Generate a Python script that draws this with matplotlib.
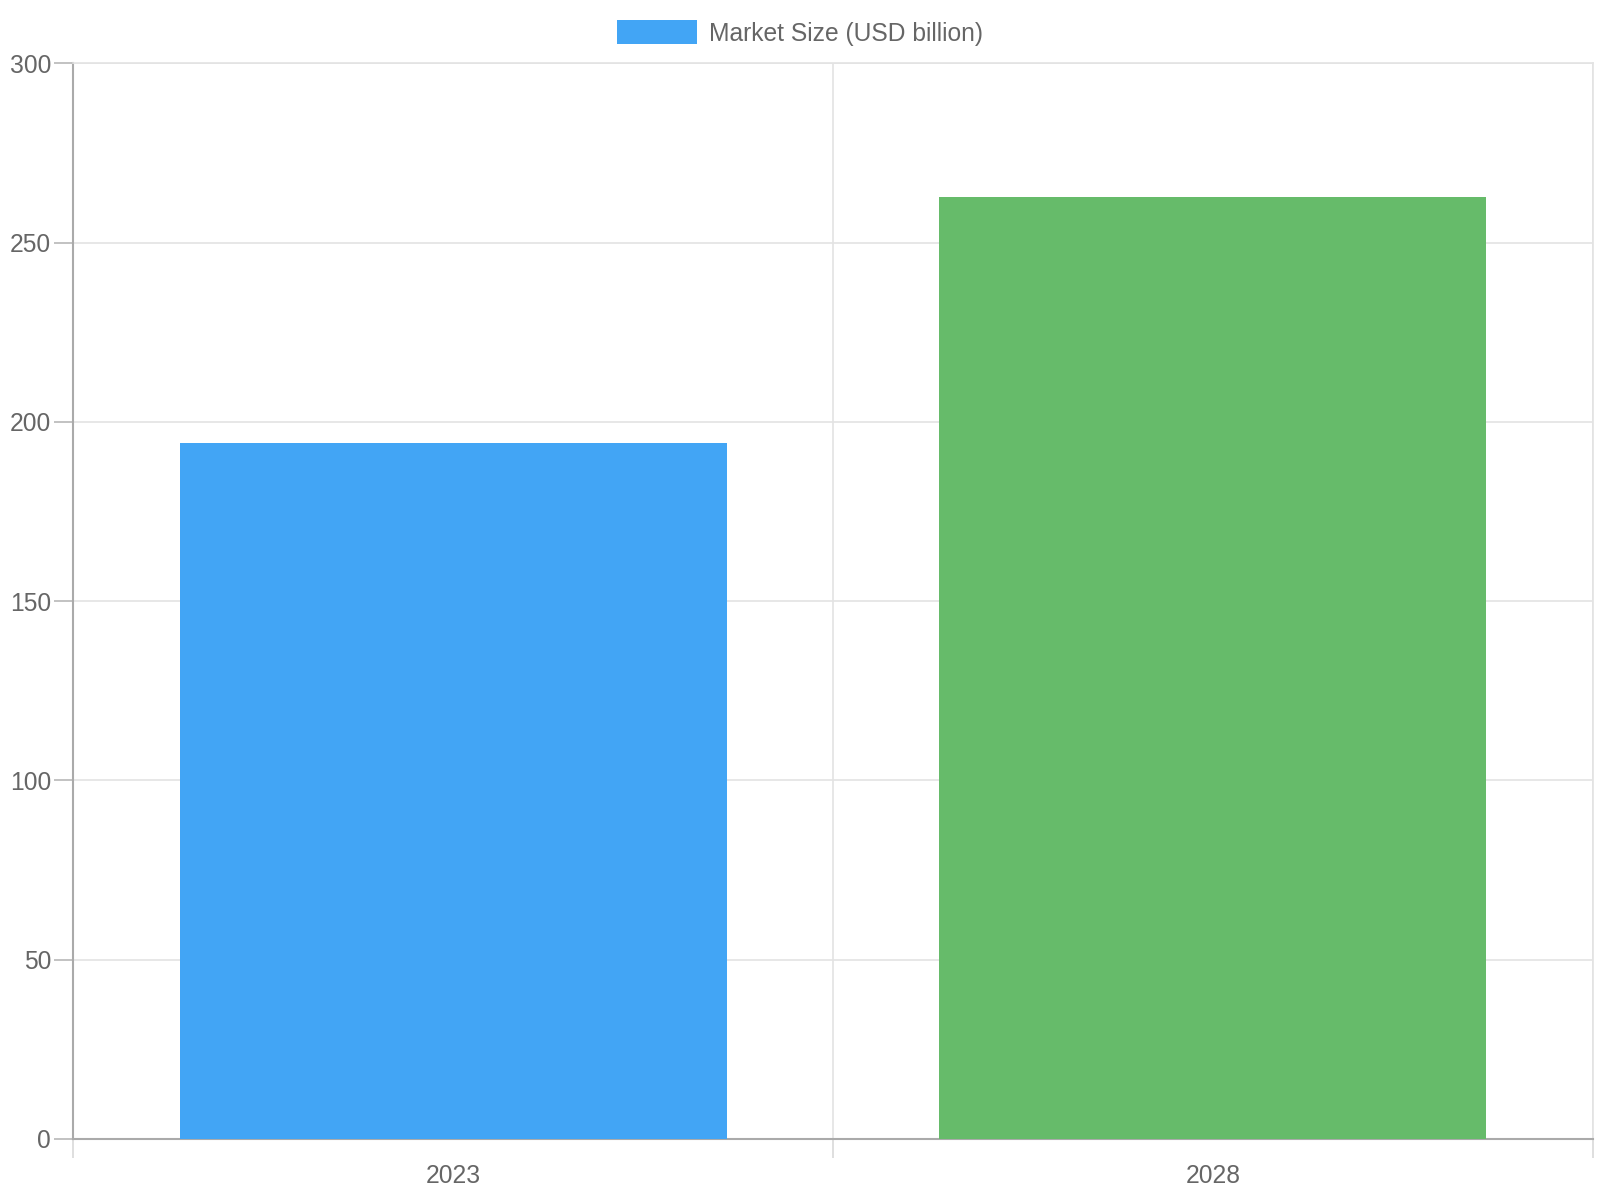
import matplotlib.pyplot as plt
from matplotlib.patches import Patch

# Data
years = ["2023", "2028"]
market_size = [194.0, 262.8]
bar_colors = ["#42A5F5", "#66BB6A"]
series_label = "Market Size (USD billion)"

plt.rcParams['font.family'] = ['Liberation Sans', 'DejaVu Sans']

fig = plt.figure(figsize=(16, 12), dpi=100)
ax = fig.add_axes([0.0459, 0.0510, 0.9496, 0.8963])

x = list(range(len(years)))
ax.bar(x, market_size, width=0.72, color=bar_colors, zorder=3)

ax.set_xlim(-0.5, len(years) - 0.5)
ax.set_ylim(0, 300)
ax.set_yticks(range(0, 301, 50))

# category labels centred, grid lines at category edges
ax.set_xticks(x)
ax.set_xticklabels(years)
ax.set_xticks([i - 0.5 for i in range(len(years) + 1)], minor=True)
ax.tick_params(axis='x', which='major', length=0, pad=18, labelsize=17.7, labelcolor='#666666')
ax.tick_params(axis='x', which='minor', length=14, width=1.2, color='#d9d9d9')
ax.tick_params(axis='y', length=14, width=1.2, color='#b8b8b8', pad=2, labelsize=17.7, labelcolor='#666666')

ax.grid(True, axis='y', color='#e3e3e3', linewidth=1.2, zorder=0)
ax.grid(True, axis='x', which='minor', color='#e3e3e3', linewidth=1.2, zorder=0)
ax.grid(False, axis='x', which='major')

for side in ['left', 'bottom']:
    ax.spines[side].set_color('#aaaaaa')
    ax.spines[side].set_linewidth(1.5)
ax.spines['top'].set_color('#e3e3e3')
ax.spines['right'].set_color('#e3e3e3')
ax.spines['top'].set_linewidth(1.2)
ax.spines['right'].set_linewidth(1.2)

fig.legend(handles=[Patch(facecolor=bar_colors[0], label=series_label)],
           loc='center', bbox_to_anchor=(0.5, 0.9725), frameon=False,
           fontsize=17.7, labelcolor='#666666',
           handlelength=3.25, handleheight=1.1, handletextpad=0.5)

fig.savefig("out.png", dpi=100, facecolor='white')
